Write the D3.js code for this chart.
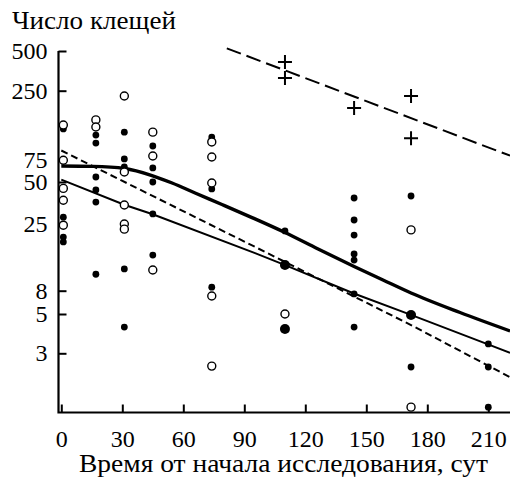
<!DOCTYPE html>
<html>
<head>
<meta charset="utf-8">
<script src="https://cdn.jsdelivr.net/npm/d3@7"></script>
<style>
	body { margin: 0; background: #fff; }
</style>
</head>
<body>
<div id="chart"></div>
<script>
// Days and counts
const xTicks = [0, 30, 60, 90, 120, 150, 180, 210];
const yTicks = [500, 250, 75, 50, 25, 8, 5, 3];

const filledPoints = [
	[1, 128], [1, 28], [1, 20], [1, 18.4],
	[17, 115], [17, 100], [17, 54.7], [17, 43.8], [17, 35.9], [17, 10.6],
	[31, 121], [31, 75.7], [31, 65.5], [31, 11.6], [31, 4.22],
	[45, 95], [45, 64.4], [45, 50], [45, 29.5], [45, 14.7],
	[74, 111], [74, 44.6], [74, 8.5],
	[110, 22.2],
	[144, 38.4], [144, 26.7], [144, 20.7], [144, 15], [144, 13.5], [144, 7.49], [144, 4.22],
	[172, 39.7], [172, 2.51],
	[210, 3.39], [210, 2.51], [210, 1.49]
];
const largePoints = [[110, 12.4], [110, 4.11], [172, 4.94]];
const openPoints = [
	[1, 137], [1, 74], [1, 45], [1, 37], [1, 24.5],
	[17, 150], [17, 132.5],
	[31, 228], [31, 59.9], [31, 34.2], [31, 25], [31, 22.9],
	[45, 121], [45, 79.8], [45, 11.4],
	[74, 102], [74, 78.4], [74, 49.2], [74, 7.19], [74, 2.54],
	[110, 5],
	[172, 22.6], [172, 1.49]
];
const crossPoints = [[110, 413], [110, 312], [144, 185], [172, 228], [172, 109]];

// fitted curves
const thickDays = [0, 15.6, 31.3, 44.6, 54.5, 65.8, 79, 93.8, 109.5, 126.3, 144, 158.2, 172, 196.1, 220.7];
const thickCounts = [66.7, 66.3, 63.8, 56.2, 49.2, 41.7, 34.5, 27.8, 21.8, 16.3, 12.1, 9.61, 7.64, 5.15, 4.01];
const thinDays = [0, 31.3, 44.6, 95.3, 109.5, 143.9, 172, 209.9, 220.7];
const thinCounts = [52.2, 34.2, 29.5, 15.2, 12.5, 7.56, 4.94, 3.37, 3.02];
const shortDashDays = [0, 95.3, 172, 220.7];
const shortDashCounts = [87.8, 16.9, 4.33, 2.2];
const longDashDays = [81.4, 220.7];
const longDashCounts = [524, 80.2];

generateChart();

function generateChart() {
	const width = 510;
	const height = 477;
	const axisX = 58.5;
	const axisY = 412.5;

	const svg = d3.select('#chart')
		.append('svg')
		.attr('width', width)
		.attr('height', height)
		.attr('font-family', 'Liberation Serif')
		.attr('font-size', 24);

	const xScale = d3.scaleLinear()
		.domain([0, 210])
		.range([61.3, 488.3]);

	// the printed axis is not an even log scale, so it is piecewise
	const yScale = d3.scaleLog()
		.domain(yTicks)
		.range([51, 90.7, 159.5, 182, 224, 290.7, 314, 353.3]);

	// y axis
	const yAxis = svg.append('g')
		.attr('transform', `translate(${axisX}, 0)`)
		.call(d3.axisLeft(yScale)
			.tickValues(yTicks)
			.tickFormat(d3.format('d'))
			.tickSizeInner(-8)
			.tickSizeOuter(0)
			.tickPadding(11))
		.attr('font-family', 'Liberation Serif')
		.attr('font-size', 24);
	yAxis.select('.domain').remove();
	yAxis.selectAll('line').attr('stroke-width', 2);
	yAxis.selectAll('text').attr('fill', '#000');

	// x axis
	const xAxis = svg.append('g')
		.attr('transform', `translate(0, ${axisY})`)
		.call(d3.axisBottom(xScale)
			.tickValues(xTicks)
			.tickSizeInner(-8)
			.tickSizeOuter(0)
			.tickPadding(17.5))
		.attr('font-family', 'Liberation Serif')
		.attr('font-size', 24);
	xAxis.select('.domain').remove();
	xAxis.selectAll('line').attr('stroke-width', 2);
	xAxis.selectAll('text').attr('fill', '#000');

	// axis lines
	svg.append('path')
		.attr('d', `M${axisX},${yScale(500)}V${axisY}H${width}`)
		.attr('fill', 'none')
		.attr('stroke', '#000')
		.attr('stroke-width', 2.2);

	// labels (the printed cyrillic is wider than Liberation Serif)
	svg.append('text')
		.attr('x', 12)
		.attr('y', 29)
		.attr('font-size', 25)
		.attr('textLength', 164)
		.attr('lengthAdjust', 'spacingAndGlyphs')
		.text('Число клещей');

	svg.append('text')
		.attr('x', 79)
		.attr('y', 472)
		.attr('font-size', 25)
		.attr('textLength', 409)
		.attr('lengthAdjust', 'spacingAndGlyphs')
		.text('Время от начала исследования, сут');

	// lines
	const line = d3.line()
		.x((d) => xScale(d[0]))
		.y((d) => yScale(d[1]));

	const zip = (days, counts) => days.map((d, i) => [d, counts[i]]);

	svg.append('path')
		.attr('d', line.curve(d3.curveMonotoneX)(zip(thickDays, thickCounts)))
		.attr('fill', 'none')
		.attr('stroke', '#000')
		.attr('stroke-width', 3.4);

	line.curve(d3.curveLinear);

	svg.append('path')
		.attr('d', line(zip(thinDays, thinCounts)))
		.attr('fill', 'none')
		.attr('stroke', '#000')
		.attr('stroke-width', 2);

	svg.append('path')
		.attr('d', line(zip(shortDashDays, shortDashCounts)))
		.attr('fill', 'none')
		.attr('stroke', '#000')
		.attr('stroke-width', 2)
		.attr('stroke-dasharray', '7,4');

	svg.append('path')
		.attr('d', line(zip(longDashDays, longDashCounts)))
		.attr('fill', 'none')
		.attr('stroke', '#000')
		.attr('stroke-width', 2)
		.attr('stroke-dasharray', '15,6');

	// points
	svg.selectAll('circle.filled')
		.data(filledPoints)
		.enter()
			.append('circle')
				.attr('class', 'filled')
				.attr('cx', (d) => xScale(d[0]))
				.attr('cy', (d) => yScale(d[1]))
				.attr('r', 3.4)
				.attr('fill', '#000');

	svg.selectAll('circle.large')
		.data(largePoints)
		.enter()
			.append('circle')
				.attr('class', 'large')
				.attr('cx', (d) => xScale(d[0]))
				.attr('cy', (d) => yScale(d[1]))
				.attr('r', 5)
				.attr('fill', '#000');

	svg.selectAll('circle.open')
		.data(openPoints)
		.enter()
			.append('circle')
				.attr('class', 'open')
				.attr('cx', (d) => xScale(d[0]))
				.attr('cy', (d) => yScale(d[1]))
				.attr('r', 4)
				.attr('fill', '#fff')
				.attr('stroke', '#000')
				.attr('stroke-width', 1.4);

	svg.selectAll('path.cross')
		.data(crossPoints)
		.enter()
			.append('path')
				.attr('class', 'cross')
				.attr('d', (d) => {
					const cx = xScale(d[0]);
					const cy = yScale(d[1]);
					return `M${cx - 7},${cy}H${cx + 7}M${cx},${cy - 7}V${cy + 7}`;
				})
				.attr('stroke', '#000')
				.attr('stroke-width', 2);
}
</script>
</body>
</html>
